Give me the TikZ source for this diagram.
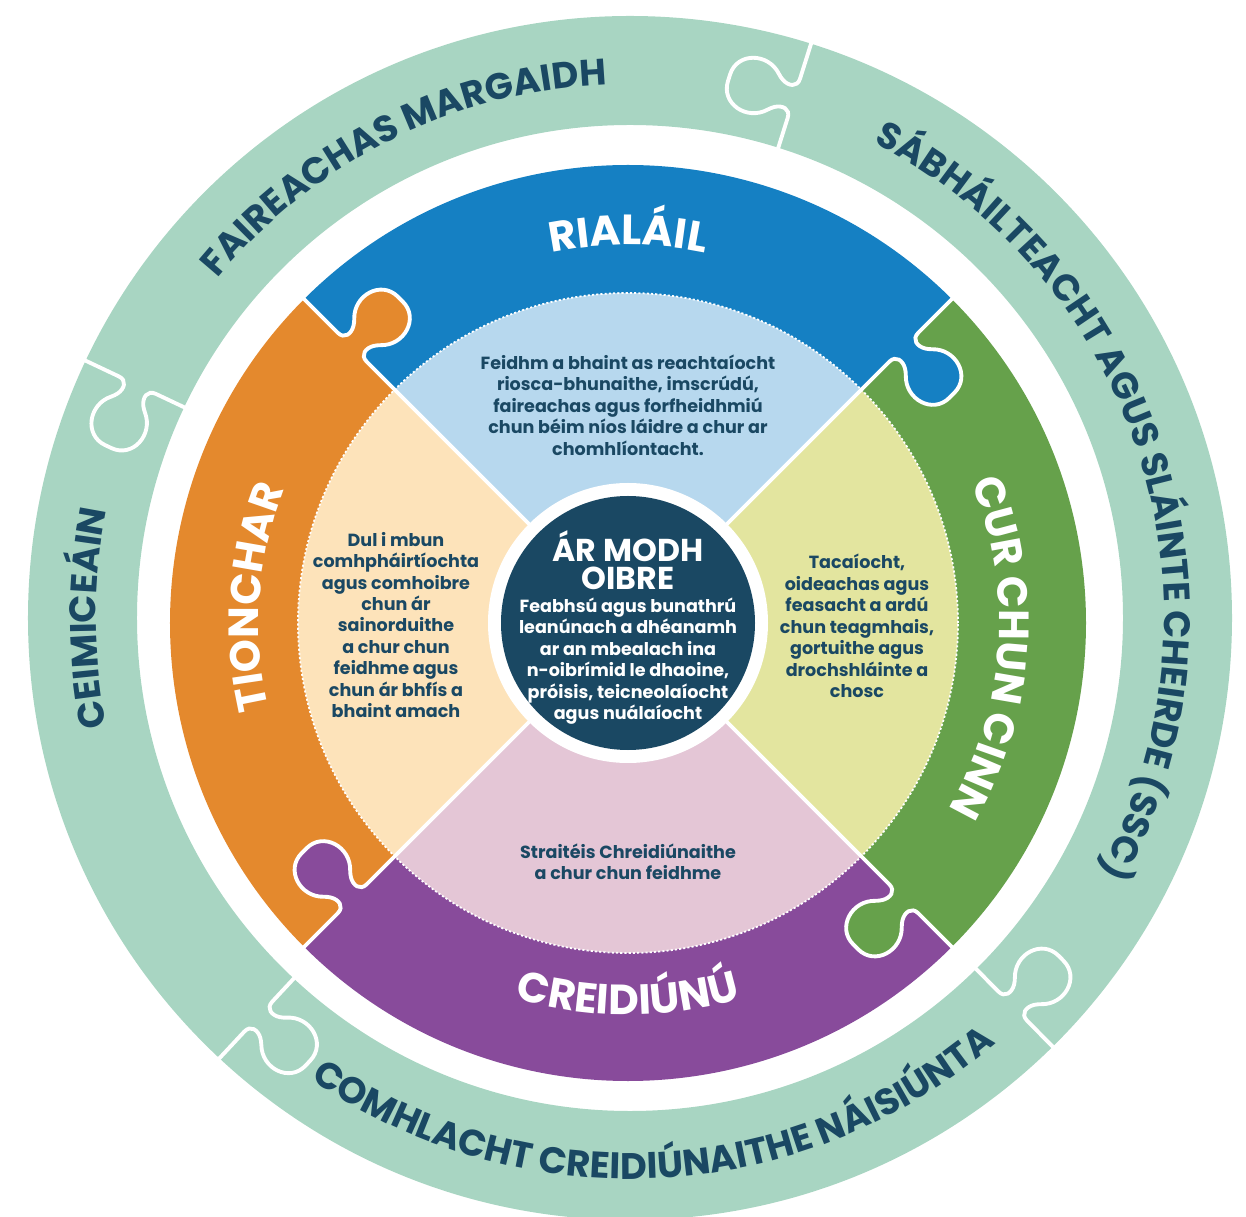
\documentclass[tikz,border=0pt]{standalone}
\usepackage{fontspec}
\setmainfont{Poppins}
\usetikzlibrary{decorations.text}

\definecolor{mint}{HTML}{A8D5C2}
\definecolor{navy}{HTML}{1A4863}
\definecolor{regblue}{HTML}{1580C3}
\definecolor{regbluelight}{HTML}{B7D8EE}
\definecolor{promgreen}{HTML}{66A14B}
\definecolor{promgreenlight}{HTML}{E3E59F}
\definecolor{accpurple}{HTML}{884B9B}
\definecolor{accpurplelight}{HTML}{E4C6D6}
\definecolor{impactorange}{HTML}{E4892D}
\definecolor{impactorangelight}{HTML}{FDE3BA}

\newcommand\knob[1]{-- ({#1-24},0) .. controls ({#1-11},0) and ({#1-10},9) .. ({#1-16},19)
  .. controls ({#1-36},38) and ({#1-27},68) .. (#1,68)
  .. controls ({#1+27},68) and ({#1+36},38) .. ({#1+16},19)
  .. controls ({#1+10},9) and ({#1+11},0) .. ({#1+24},0)}

\tikzset{
  gap/.style={white, line width=2.2pt},
  bodytext/.style={text=navy, font=\bfseries\fontsize{10}{12.2}\selectfont, align=center},
  hubtext/.style={text=white, font=\bfseries\fontsize{10}{12.2}\selectfont, align=center},
  hubtitle/.style={text=white, font=\bfseries\fontsize{18}{16}\selectfont, align=center},
  ringlabel/.style={decorate, decoration={text along path, text align=center,
    text color=navy, text={|\bfseries\fontsize{21}{21}\selectfont|#1}}},
  bandlabel/.style={decorate, decoration={text along path, text align=center,
    text color=white, text={|\bfseries\fontsize{24}{24}\selectfont|#1}}},
}

\begin{document}
\begin{tikzpicture}[x=0.02cm, y=0.02cm]
\useasboundingbox (-628,-593) rectangle (618,623);

\begin{scope}[shift={(2,5)}]
  \fill[mint, even odd rule] (0,0) circle[radius=602] (0,0) circle[radius=493];
  \foreach \ang in {72.5,154.7,227,314.6}
    \draw[gap, rotate=\ang, rounded corners=2pt] (490,0) \knob{545} -- (606,0);
  \path[ringlabel=FAIREACHAS MARGAIDH] (156.5:534) arc[start angle=156.5, end angle=76.5, radius=534];
  \path[ringlabel=SÁBHÁILTEACHT AGUS SLÁINTE CHEIRDE (SSC)] (77.2:534) arc[start angle=77.2, end angle=-42.8, radius=534];
  \path[ringlabel=CEIMICEÁIN] (220:534) arc[start angle=220, end angle=140, radius=534];
  \path[ringlabel=COMHLACHT CREIDIÚNAITHE NÁISIÚNTA] (213:561) arc[start angle=213, end angle=333, radius=561];
\end{scope}

\foreach \a/\light/\dark in {45/regbluelight/regblue, -45/promgreenlight/promgreen,
    225/accpurplelight/accpurple, 135/impactorangelight/impactorange}{
  \fill[\light] (0,0) -- (\a:330) arc[start angle=\a, end angle=\a+90, radius=330] -- cycle;
  \fill[\dark] (\a:330) arc[start angle=\a, end angle=\a+90, radius=330]
    -- (\a+90:458) arc[start angle=\a+90, end angle=\a, radius=458] -- cycle;
}

\foreach \ang/\own in {45/regblue, 135/impactorange, 225/accpurple, 315/promgreen}
  \fill[\own, rotate=\ang, yscale=-1] (366,-3) \knob{390} -- (414,-3) -- cycle;

\draw[white, line width=1pt, dash pattern=on 1.2pt off 1.2pt] (0,0) circle[radius=330];

\foreach \ang in {45, 135, 225, 315}
  \draw[gap, rotate=\ang, yscale=-1, rounded corners=2pt] (120,0) \knob{390} -- (461,0);

\fill[white] (0,0) circle[radius=140];
\fill[navy] (0,0) circle[radius=127];

\path[bandlabel=RIALÁIL] (130:378) arc[start angle=130, end angle=50, radius=378];
\path[bandlabel=CUR CHUN CINN] (46:371) arc[start angle=46, end angle=-54, radius=371];
\path[bandlabel=TIONCHAR] (216:369) arc[start angle=216, end angle=136, radius=369];
\path[bandlabel=CREIDIÚNÚ] (225:392) arc[start angle=225, end angle=315, radius=392];

\node[bodytext] (regtext) at (0,218) {Feidhm a bhaint as reachtaíocht\\riosca-bhunaithe, imscrúdú,\\faireachas agus forfheidhmiú\\chun béim níos láidre a chur ar\\chomhlíontacht.};
\node[bodytext] (impacttext) at (-232,-2) {Dul i mbun\\comhpháirtíochta\\agus comhoibre\\chun ár\\sainorduithe\\a chur chun\\feidhme agus\\chun ár bhfís a\\bhaint amach};
\node[bodytext] (promtext) at (229,-3) {Tacaíocht,\\oideachas agus\\feasacht a ardú\\chun teagmhais,\\gortuithe agus\\drochshláinte a\\chosc};
\node[bodytext] (acctext) at (0,-239) {Straitéis Chreidiúnaithe\\a chur chun feidhme};

\node[hubtitle] (hubtitle) at (0,63) {ÁR MODH\\OIBRE};
\node[hubtext] (hubtext) at (0,-38) {Feabhsú agus bunathrú\\leanúnach a dhéanamh\\ar an mbealach ina\\n-oibrímid le dhaoine,\\próisis, teicneolaíocht\\agus nuálaíocht};
\end{tikzpicture}
\end{document}
